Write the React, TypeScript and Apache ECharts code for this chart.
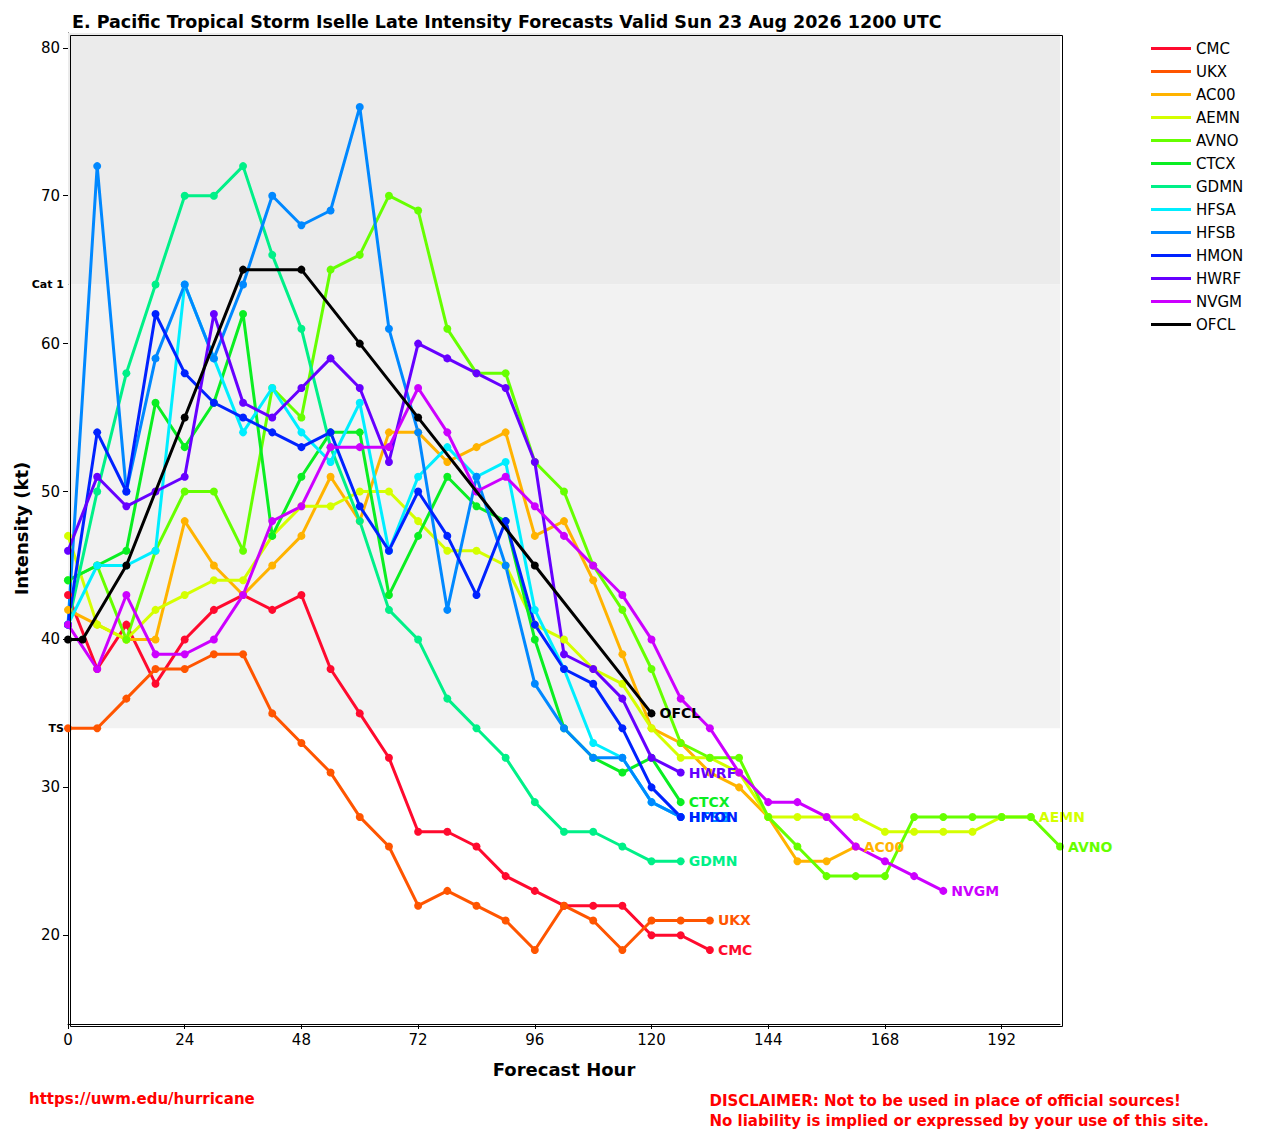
import * as echarts from "echarts";
import { useEffect, useRef } from "react";

const hours = [0, 6, 12, 18, 24, 30, 36, 42, 48, 54, 60, 66, 72, 78, 84, 90, 96, 102, 108, 114, 120, 126, 132, 138, 144, 150, 156, 162, 168, 174, 180, 186, 192, 198, 204];

const CMC = [43, 38, 41, 37, 40, 42, 43, 42, 43, 38, 35, 32, 27, 27, 26, 24, 23, 22, 22, 22, 20, 20, 19];
const UKX = [34, 34, 36, 38, 38, 39, 39, 35, 33, 31, 28, 26, 22, 23, 22, 21, 19, 22, 21, 19, 21, 21, 21];
const AC00 = [42, 41, 40, 40, 48, 45, 43, 45, 47, 51, 48, 54, 54, 52, 53, 54, 47, 48, 44, 39, 34, 33, 31, 30, 28, 25, 25, 26];
const AEMN = [47, 41, 40, 42, 43, 44, 44, 47, 49, 49, 50, 50, 48, 46, 46, 45, 41, 40, 38, 37, 34, 32, 32, 31, 28, 28, 28, 28, 27, 27, 27, 27, 28, 28];
const AVNO = [44, 45, 40, 46, 50, 50, 46, 57, 55, 65, 66, 70, 69, 61, 58, 58, 52, 50, 45, 42, 38, 33, 32, 32, 28, 26, 24, 24, 24, 28, 28, 28, 28, 28, 26];
const CTCX = [44, 45, 46, 56, 53, 56, 62, 47, 51, 54, 54, 43, 47, 51, 49, 48, 40, 34, 32, 31, 32, 29];
const GDMN = [41, 50, 58, 64, 70, 70, 72, 66, 61, 53, 48, 42, 40, 36, 34, 32, 29, 27, 27, 26, 25, 25];
const HFSA = [41, 45, 45, 46, 64, 59, 54, 57, 54, 52, 56, 46, 51, 53, 51, 52, 42, 38, 33, 32, 29, 28];
const HFSB = [41, 72, 50, 59, 64, 59, 64, 70, 68, 69, 76, 61, 54, 42, 51, 45, 37, 34, 32, 32, 29, 28];
const HMON = [41, 54, 50, 62, 58, 56, 55, 54, 53, 54, 49, 46, 50, 47, 43, 48, 41, 38, 37, 34, 30, 28];
const HWRF = [46, 51, 49, 50, 51, 62, 56, 55, 57, 59, 57, 52, 60, 59, 58, 57, 52, 39, 38, 36, 32, 31];
const NVGM = [41, 38, 43, 39, 39, 40, 43, 48, 49, 53, 53, 53, 57, 54, 50, 51, 49, 47, 45, 43, 40, 36, 34, 31, 29, 29, 28, 26, 25, 24, 23];

const ofclHours = [0, 3, 12, 24, 36, 48, 60, 72, 96, 120];
const OFCL = [40, 40, 45, 55, 65, 65, 60, 55, 45, 35];

const yTicks = [20, 30, 40, 50, 60, 70, 80];

const models: [string, number[], string][] = [
  ["CMC", CMC, "#ff0a2e"],
  ["UKX", UKX, "#ff5500"],
  ["AC00", AC00, "#ffb300"],
  ["AEMN", AEMN, "#d4ff00"],
  ["AVNO", AVNO, "#66ff00"],
  ["CTCX", CTCX, "#0aee22"],
  ["GDMN", GDMN, "#00f088"],
  ["HFSA", HFSA, "#00eeff"],
  ["HFSB", HFSB, "#0088ff"],
  ["HMON", HMON, "#0022ff"],
  ["HWRF", HWRF, "#6600ff"],
  ["NVGM", NVGM, "#cc00ff"],
];

const FONT = "DejaVu Sans";

export default function App() {
  const ref = useRef<HTMLDivElement>(null);

  useEffect(() => {
    if (!ref.current) return;
    document.body.style.margin = "0";
    const chart = echarts.init(ref.current, null, { renderer: "svg" });

    const line = (name: string, xs: number[], ys: number[], color: string) => ({
      name,
      type: "line",
      data: ys.map((v, i) => [xs[i], v]),
      symbol: "circle",
      symbolSize: 8,
      itemStyle: { color },
      lineStyle: { color, width: 3 },
      endLabel: {
        show: true,
        formatter: name,
        color,
        fontFamily: FONT,
        fontWeight: "bold",
        fontSize: 14,
        distance: 8,
      },
      z: 3,
    });

    const series: any[] = models.map(([n, d, c]) => line(n, hours, d, c));
    series.push({ ...line("OFCL", ofclHours, OFCL, "#000000"), z: 4 });
    series[0].markArea = {
      silent: true,
      data: [
        [{ yAxis: 64, itemStyle: { color: "#ebebeb" } }, { yAxis: 81 }],
        [{ yAxis: 34, itemStyle: { color: "#f2f2f2" } }, { yAxis: 64 }],
      ],
    };
    series[0].markLine = {
      silent: true,
      symbol: "none",
      lineStyle: { color: "rgba(0,0,0,0)", width: 0, type: "solid" },
      label: { show: true, position: "start", color: "#000", fontFamily: FONT, fontSize: 11, fontWeight: "bold", distance: 4 },
      data: [
        { yAxis: 64, label: { formatter: "Cat 1" } },
        { yAxis: 34, label: { formatter: "TS" } },
      ],
    };

    chart.setOption({
      animation: false,
      title: {
        text: "E. Pacific Tropical Storm Iselle Late Intensity Forecasts Valid Sun 23 Aug 2026 1200 UTC",
        left: 67,
        top: 8,
        textStyle: { fontFamily: FONT, fontSize: 17.5, fontWeight: "bold", color: "#000" },
      },
      legend: {
        orient: "vertical",
        left: 1146,
        top: 36,
        itemWidth: 40,
        itemHeight: 3,
        itemGap: 8,
        icon: "rect",
        textStyle: { fontFamily: FONT, fontSize: 15, color: "#000" },
        data: [...models.map((m) => m[0]), "OFCL"],
      },
      grid: { left: 68, right: 213, top: 33, bottom: 115, containLabel: false },
      xAxis: {
        type: "value",
        min: 0,
        max: 204,
        interval: 24,
        name: "Forecast Hour",
        nameLocation: "middle",
        nameGap: 36,
        nameTextStyle: { fontFamily: FONT, fontSize: 18, fontWeight: "bold", color: "#000" },
        axisLine: { lineStyle: { color: "#000" } },
        axisTick: { show: true, lineStyle: { color: "#000" } },
        axisLabel: { fontFamily: FONT, fontSize: 15, color: "#000", showMaxLabel: false },
        splitLine: { show: false },
      },
      yAxis: {
        type: "value",
        min: 14,
        max: 81,
        name: "Intensity (kt)",
        nameLocation: "middle",
        nameGap: 38,
        nameTextStyle: { fontFamily: FONT, fontSize: 18, fontWeight: "bold", color: "#000" },
        axisLine: { show: true, lineStyle: { color: "#000" } },
        axisTick: { show: true, customValues: yTicks, lineStyle: { color: "#000" } },
        axisLabel: { fontFamily: FONT, fontSize: 15, color: "#000", customValues: yTicks },
        splitLine: { show: false },
      },
      graphic: [
        {
          type: "rect",
          left: 68,
          top: 33,
          shape: { width: 992, height: 991 },
          style: { fill: "none", stroke: "#000", lineWidth: 1 },
          silent: true,
          z: 10,
        },
        {
          type: "text",
          left: 29,
          top: 1091,
          style: { text: "https://uwm.edu/hurricane", fill: "#ff0000", font: `bold 15px "${FONT}"` },
        },
        {
          type: "text",
          right: 64,
          top: 1091,
          style: {
            text: "DISCLAIMER: Not to be used in place of official sources!\nNo liability is implied or expressed by your use of this site.",
            fill: "#ff0000",
            font: `bold 15px "${FONT}"`,
            align: "right",
            lineHeight: 20,
          },
        },
      ],
      series,
    });

    return () => chart.dispose();
  }, []);

  return <div ref={ref} style={{ width: 1273, height: 1139 }} />;
}
